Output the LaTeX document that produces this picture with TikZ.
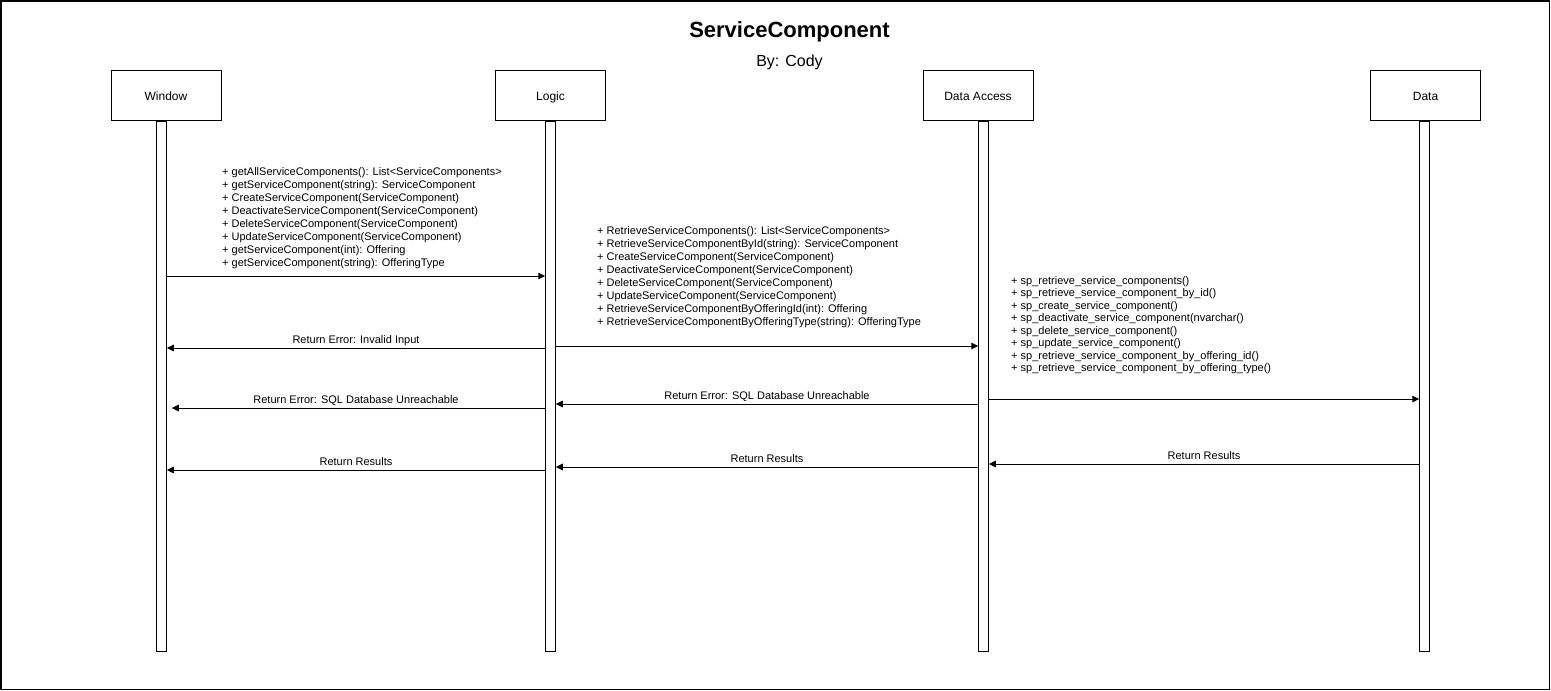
\documentclass[tikz,border=0pt]{standalone}
\usepackage{fontspec}
\setmainfont{Liberation Sans}
\usetikzlibrary{arrows.meta}

\tikzset{
  actor/.style={draw, line width=1pt, minimum width=110pt, minimum height=50pt,
    text height=12.5pt, text depth=2.5pt, font=\fontsize{12}{14}\selectfont},
  lifeline/.style={draw, line width=1pt, minimum width=9.5pt, minimum height=530pt,
    inner sep=0pt, anchor=north},
  msg/.style={line width=1pt, -{Triangle[length=7pt,width=6.5pt]}},
  msglabel/.style={midway, above=4.5pt, inner sep=0pt, text depth=0pt,
    font=\fontsize{11}{13}\selectfont},
  calls/.style={anchor=north west, align=left, inner sep=0pt,
    font=\fontsize{11}{13}\selectfont},
}

\begin{document}
\begin{tikzpicture}[x=1pt, y=-1pt]
  \useasboundingbox (0,0) rectangle (1551,691);
  \draw[line width=1.5pt] (1,1) rectangle (1549.5,689.5);

  % Title
  \node (title) at (789.5,31.5) {\fontsize{22}{24}\selectfont\bfseries ServiceComponent};
  \node (author) at (789.5,62) {\fontsize{16}{18}\selectfont By: Cody};

  % Participants
  \node[actor] (win) at (166,95) {Window};
  \node[actor] (log) at (550.5,95) {Logic};
  \node[actor] (acc) at (978,95) {Data Access};
  \node[actor] (dat) at (1425.5,95) {Data};

  % Lifelines
  \node[lifeline, xshift=-4.5pt] (winline) at (win.south) {};
  \node[lifeline] (logline) at (log.south) {};
  \node[lifeline, xshift=5.5pt] (accline) at (acc.south) {};
  \node[lifeline, xshift=-1pt] (datline) at (dat.south) {};

  % Message rows
  \coordinate (r1) at (0,276);
  \coordinate (r2) at (0,346);
  \coordinate (r3) at (0,348);
  \coordinate (r4) at (0,399);
  \coordinate (r5) at (0,404);
  \coordinate (r6) at (0,408);
  \coordinate (r7) at (0,464);
  \coordinate (r8) at (0,467);
  \coordinate (r9) at (0,470);

  % Calls
  \draw[msg] (winline.east |- r1) -- (logline.west |- r1);
  \node[calls] (wincalls) at (222,167) {+ getAllServiceComponents(): List<ServiceComponents>\\
    + getServiceComponent(string): ServiceComponent\\
    + CreateServiceComponent(ServiceComponent)\\
    + DeactivateServiceComponent(ServiceComponent)\\
    + DeleteServiceComponent(ServiceComponent)\\
    + UpdateServiceComponent(ServiceComponent)\\
    + getServiceComponent(int): Offering\\
    + getServiceComponent(string): OfferingType};

  \draw[msg] (logline.east |- r2) -- (accline.west |- r2);
  \node[calls] (logcalls) at (597,226) {+ RetrieveServiceComponents(): List<ServiceComponents>\\
    + RetrieveServiceComponentById(string): ServiceComponent\\
    + CreateServiceComponent(ServiceComponent)\\
    + DeactivateServiceComponent(ServiceComponent)\\
    + DeleteServiceComponent(ServiceComponent)\\
    + UpdateServiceComponent(ServiceComponent)\\
    + RetrieveServiceComponentByOfferingId(int): Offering\\
    + RetrieveServiceComponentByOfferingType(string): OfferingType};

  \draw[msg] (accline.east |- r4) -- (datline.west |- r4);
  \node[calls, font=\fontsize{11}{12.5}\selectfont] (acccalls) at (1011,276) {+ sp\_retrieve\_service\_components()\\
    + sp\_retrieve\_service\_component\_by\_id()\\
    + sp\_create\_service\_component()\\
    + sp\_deactivate\_service\_component(nvarchar()\\
    + sp\_delete\_service\_component()\\
    + sp\_update\_service\_component()\\
    + sp\_retrieve\_service\_component\_by\_offering\_id()\\
    + sp\_retrieve\_service\_component\_by\_offering\_type()};

  % Returns
  \draw[msg] (logline.west |- r3) -- (winline.east |- r3)
    node[msglabel] (ret1) {Return Error: Invalid Input};
  \draw[msg] (accline.west |- r5) -- (logline.east |- r5)
    node[msglabel] (ret2) {Return Error: SQL Database Unreachable};
  \draw[msg, shorten >=5pt] (logline.west |- r6) -- (winline.east |- r6)
    node[msglabel] (ret3) {Return Error: SQL Database Unreachable};
  \draw[msg] (datline.west |- r7) -- (accline.east |- r7)
    node[msglabel] (ret4) {Return Results};
  \draw[msg] (accline.west |- r8) -- (logline.east |- r8)
    node[msglabel] (ret5) {Return Results};
  \draw[msg] (logline.west |- r9) -- (winline.east |- r9)
    node[msglabel] (ret6) {Return Results};
\end{tikzpicture}
\end{document}
